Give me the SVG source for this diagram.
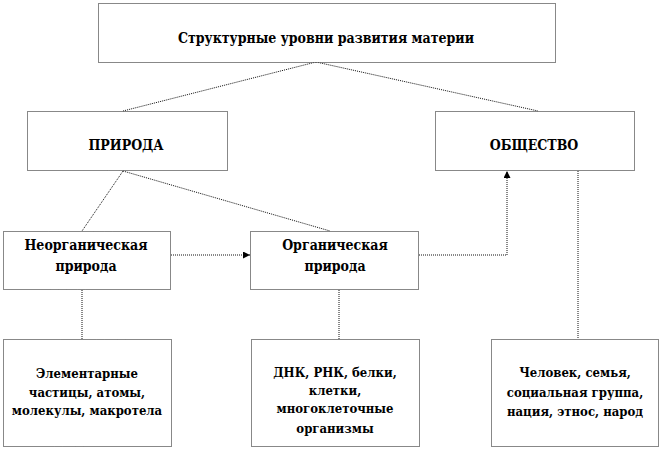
<svg xmlns="http://www.w3.org/2000/svg" width="662" height="450" viewBox="0 0 662 450">
<defs>
<style>
.box{fill:#fff;stroke:#111;stroke-width:1;stroke-dasharray:1 1}
.ln{fill:none;stroke:#111;stroke-width:1;stroke-dasharray:1 1}
.t{font-family:'DejaVu Serif Condensed','DejaVu Serif','Liberation Serif',serif;font-stretch:condensed;font-weight:bold;font-size:13px;fill:#000;text-anchor:middle}
.big{font-size:14px}
</style>
<marker id="ah" viewBox="0 0 10 10" refX="10" refY="5" markerWidth="7" markerHeight="7" orient="auto" markerUnits="userSpaceOnUse">
<path d="M0,0 L10,5 L0,10 Z" fill="#000"/>
</marker>
</defs>
<rect width="662" height="450" fill="#fff"/>
<g id="connectors">
<line class="ln" x1="316" y1="62" x2="123" y2="111"/>
<line class="ln" x1="316" y1="62" x2="538" y2="111"/>
<line class="ln" x1="123" y1="171" x2="82" y2="231"/>
<line class="ln" x1="123" y1="171" x2="330" y2="231"/>
<line class="ln" x1="171" y1="255" x2="250" y2="255" marker-end="url(#ah)"/>
<polyline class="ln" points="419,255 507,255 507,171" marker-end="url(#ah)"/>
<line class="ln" x1="578" y1="171" x2="578" y2="339"/>
<line class="ln" x1="82" y1="290" x2="82" y2="339"/>
<line class="ln" x1="339" y1="290" x2="339" y2="339"/>
</g>
<g id="root">
<rect class="box" x="98.5" y="3.5" width="457" height="59"/>
<text class="t big" x="326" y="43">Структурные уровни развития материи</text>
</g>
<g id="priroda">
<rect class="box" x="27.5" y="111.5" width="200" height="59"/>
<text class="t big" x="126" y="150">ПРИРОДА</text>
</g>
<g id="obshchestvo">
<rect class="box" x="435.5" y="111.5" width="199" height="59"/>
<text class="t big" x="534" y="150">ОБЩЕСТВО</text>
</g>
<g id="neorg">
<rect class="box" x="3.5" y="231.5" width="167" height="58"/>
<text class="t big" x="86" y="250">Неорганическая</text>
<text class="t big" x="86" y="271">природа</text>
</g>
<g id="org">
<rect class="box" x="250.5" y="231.5" width="168" height="58"/>
<text class="t big" x="335" y="250">Органическая</text>
<text class="t big" x="335" y="271">природа</text>
</g>
<g id="elem">
<rect class="box" x="3.5" y="339.5" width="168" height="107"/>
<text class="t" x="87" y="378">Элементарные</text>
<text class="t" x="87" y="397">частицы, атомы,</text>
<text class="t" x="87" y="415">молекулы,  макротела</text>
</g>
<g id="dnk">
<rect class="box" x="251.5" y="339.5" width="168" height="107"/>
<text class="t" x="335" y="377">ДНК, РНК, белки,</text>
<text class="t" x="335" y="395">клетки,</text>
<text class="t" x="335" y="413">многоклеточные</text>
<text class="t" x="335" y="433">организмы</text>
</g>
<g id="chelovek">
<rect class="box" x="491.5" y="339.5" width="167" height="107"/>
<text class="t" x="575" y="377">Человек, семья,</text>
<text class="t" x="575" y="397">социальная группа,</text>
<text class="t" x="575" y="416">нация, этнос, народ</text>
</g>
</svg>
